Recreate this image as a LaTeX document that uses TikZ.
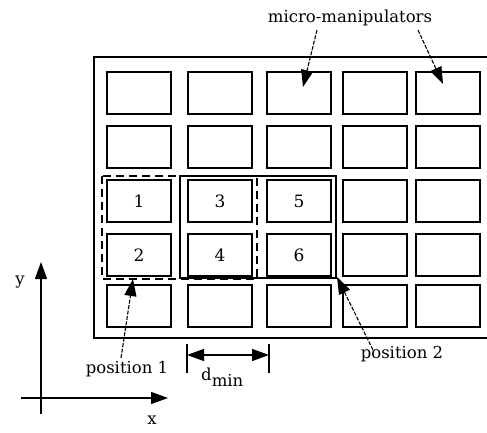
\documentclass[tikz,border=0pt]{standalone}
\usepackage{fontspec}
\setmainfont{DejaVu Serif}
\usetikzlibrary{arrows.meta}
\begin{document}
\begin{tikzpicture}[x=1pt,y=-1pt,
  cell/.style={draw,line width=1.6pt,minimum width=64pt,minimum height=42pt,inner sep=0pt},
  digit/.style={inner sep=0pt,font=\fontsize{17}{19}\selectfont},
  lbl/.style={inner sep=0pt,font=\fontsize{16.5}{19}\selectfont},
  head/.tip={Triangle[length=17pt,width=12pt]},
  tip/.style={-head},
  ptr/.style={tip,line width=1.1pt,dash pattern=on 4pt off 1.5pt},
  axis/.style={tip,line width=1.3pt},
  frameline/.style={line width=1.3pt}]
\useasboundingbox (0,0) rectangle (487,432);

% outer plate (its right edge runs off the page)
\coordinate (ftr) at (488,57);
\coordinate (ftl) at (94,57);
\coordinate (fbl) at (94,338);
\coordinate (fbr) at (488,338);
\draw[frameline] (ftr) -- (ftl) -- (fbl) -- (fbr);

% 5 x 5 grid of manipulator cells
\foreach \c/\x in {1/139,2/220,3/299,4/375,5/448}{
  \foreach \r/\y in {1/93,2/147,3/201,4/255,5/306}{
    \node[cell] (c\r\c) at (\x,\y) {};
  }
}
\node[digit] at (c31) {1};
\node[digit] at (c41) {2};
\node[digit] at (c32) {3};
\node[digit] at (c42) {4};
\node[digit] at (c33) {5};
\node[digit] at (c43) {6};

% the two positions of the 2 x 2 block
\draw[line width=1.1pt,dash pattern=on 8pt off 5pt] (102,176) rectangle (257,279);
\draw[line width=1.1pt] (180,176) rectangle (336,278);

% labels
\node[lbl] (mm) at (350,18) {micro-manipulators};
\node[lbl] (p1) at (127,369) {position 1};
\node[lbl] (p2) at (402,354) {position 2};
\node[lbl,anchor=west] (dm) at (201,377) {d\raisebox{-6pt}{min}};
\node[lbl] (ylab) at (20,282) {y};
\node[lbl] (xlab) at (152,420) {x};

% pointers
\coordinate (mm1s) at (317,30);
\coordinate (mm1e) at (303,87);
\coordinate (mm2s) at (418,30);
\coordinate (mm2e) at (443,84);
\draw[ptr] (mm1s) -- (mm1e);
\draw[ptr] (mm2s) -- (mm2e);
\coordinate (p1s) at (121,358);
\coordinate (p1e) at (133,279);
\draw[ptr] (p1s) -- (p1e);
\coordinate (p2s) at (373,350);
\coordinate (p2e) at (337,277);
\draw[ptr] (p2s) -- (p2e);

% pitch dimension
\coordinate (dl) at (187,355);
\coordinate (dr) at (269,355);
\draw[line width=1.3pt] (187,344) -- (187,373);
\draw[line width=1.3pt] (269,344) -- (269,373);
\draw[line width=1.3pt,head-head] (dl) -- (dr);

% axes
\coordinate (o) at (41,398);
\coordinate (yb) at (41,414);
\coordinate (yt) at (41,262);
\coordinate (xl) at (21,398);
\coordinate (xr) at (168,398);
\draw[axis] (yb) -- (yt);
\draw[axis] (xl) -- (xr);
\end{tikzpicture}
\end{document}
